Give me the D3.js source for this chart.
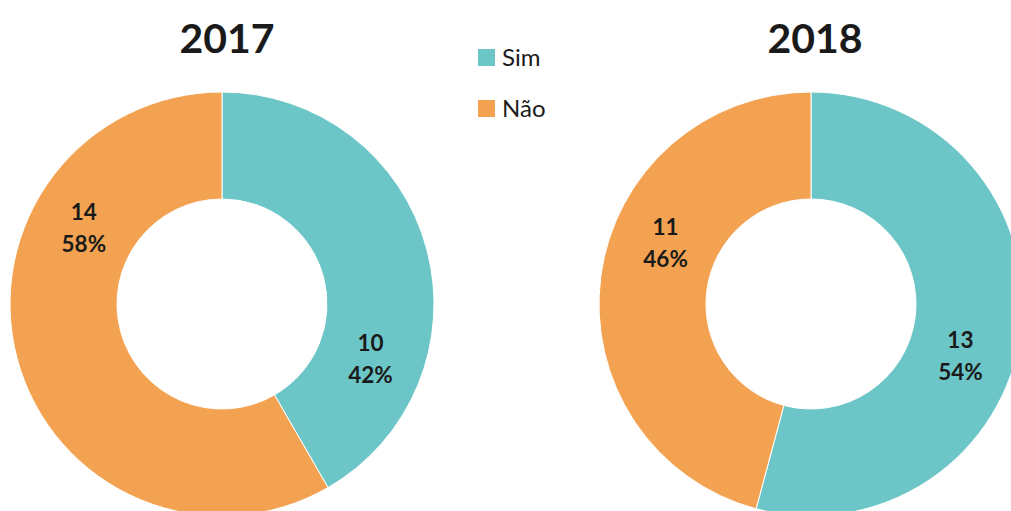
<!DOCTYPE html>
<html>
<head>
<meta charset="utf-8">
<script src="https://cdn.jsdelivr.net/npm/d3@7"></script>
<style>
  html, body { margin: 0; padding: 0; background: #fff; }
  svg { display: block; font-family: Lato, "Open Sans", sans-serif; }
</style>
</head>
<body>
<script>
const categories = ["Sim", "Não"];
const years = ["2017", "2018"];
const values2017 = [10, 14];
const values2018 = [13, 11];
const percents2017 = ["42%", "58%"];
const percents2018 = ["54%", "46%"];
// label angles (deg, clockwise from top) as placed in the original
const labelAngles2017 = [110, 299];
const labelAngles2018 = [109, 293];

const width = 1011, height = 511;
const outerR = 212, innerR = 105;

const color = d3.scaleOrdinal()
  .domain(categories)
  .range(["#6cc5c6", "#f3a251"]);

let svg = d3.select("body")
  .append("svg")
  .attr("width", width)
  .attr("height", height);

let charts = [
  {year: years[0], values: values2017, pct: percents2017, angles: labelAngles2017, cx: 222, titleX: 227},
  {year: years[1], values: values2018, pct: percents2018, angles: labelAngles2018, cx: 811, titleX: 815}
];

let pie = d3.pie().sort(null).value((d) => d.v);
let arc = d3.arc().innerRadius(innerR).outerRadius(outerR);

charts.forEach((c) => {
  let data = categories.map((k, i) => ({k: k, v: c.values[i], p: c.pct[i], a: c.angles[i]}));

  svg.append("text")
    .attr("x", c.titleX)
    .attr("y", 53)
    .attr("text-anchor", "middle")
    .attr("font-size", 41)
    .attr("font-weight", "bold")
    .attr("fill", "#1a1a1a")
    .text(c.year);

  let g = svg.append("g")
    .attr("transform", `translate(${c.cx}, 304)`);

  g.selectAll("path")
    .data(pie(data))
    .enter()
    .append("path")
    .attr("d", arc)
    .attr("fill", (d) => color(d.data.k))
    .attr("stroke", "#fff")
    .attr("stroke-width", 1);

  let labels = g.selectAll(".lbl")
    .data(data)
    .enter()
    .append("text")
    .attr("class", "lbl")
    .attr("text-anchor", "middle")
    .attr("font-size", 22.5)
    .attr("font-weight", "bold")
    .attr("fill", "#1a1a1a")
    .attr("transform", (d) => {
      let [x, y] = d3.pointRadial(d.a * Math.PI / 180, 158);
      return `translate(${x}, ${y})`;
    });

  labels.append("tspan").attr("x", 0).attr("y", -7).text((d) => d.v);
  labels.append("tspan").attr("x", 0).attr("y", 25).text((d) => d.p);
});

// legend
let legend = svg.append("g")
  .attr("transform", "translate(478, 49)");

let items = legend.selectAll("g")
  .data(categories)
  .enter()
  .append("g")
  .attr("transform", (d, i) => `translate(0, ${i * 51})`);

items.append("rect")
  .attr("width", 17)
  .attr("height", 17)
  .attr("fill", (d) => color(d));

items.append("text")
  .attr("x", 24)
  .attr("y", 17)
  .attr("font-size", 24)
  .attr("fill", "#1a1a1a")
  .text((d) => d);
</script>
</body>
</html>
